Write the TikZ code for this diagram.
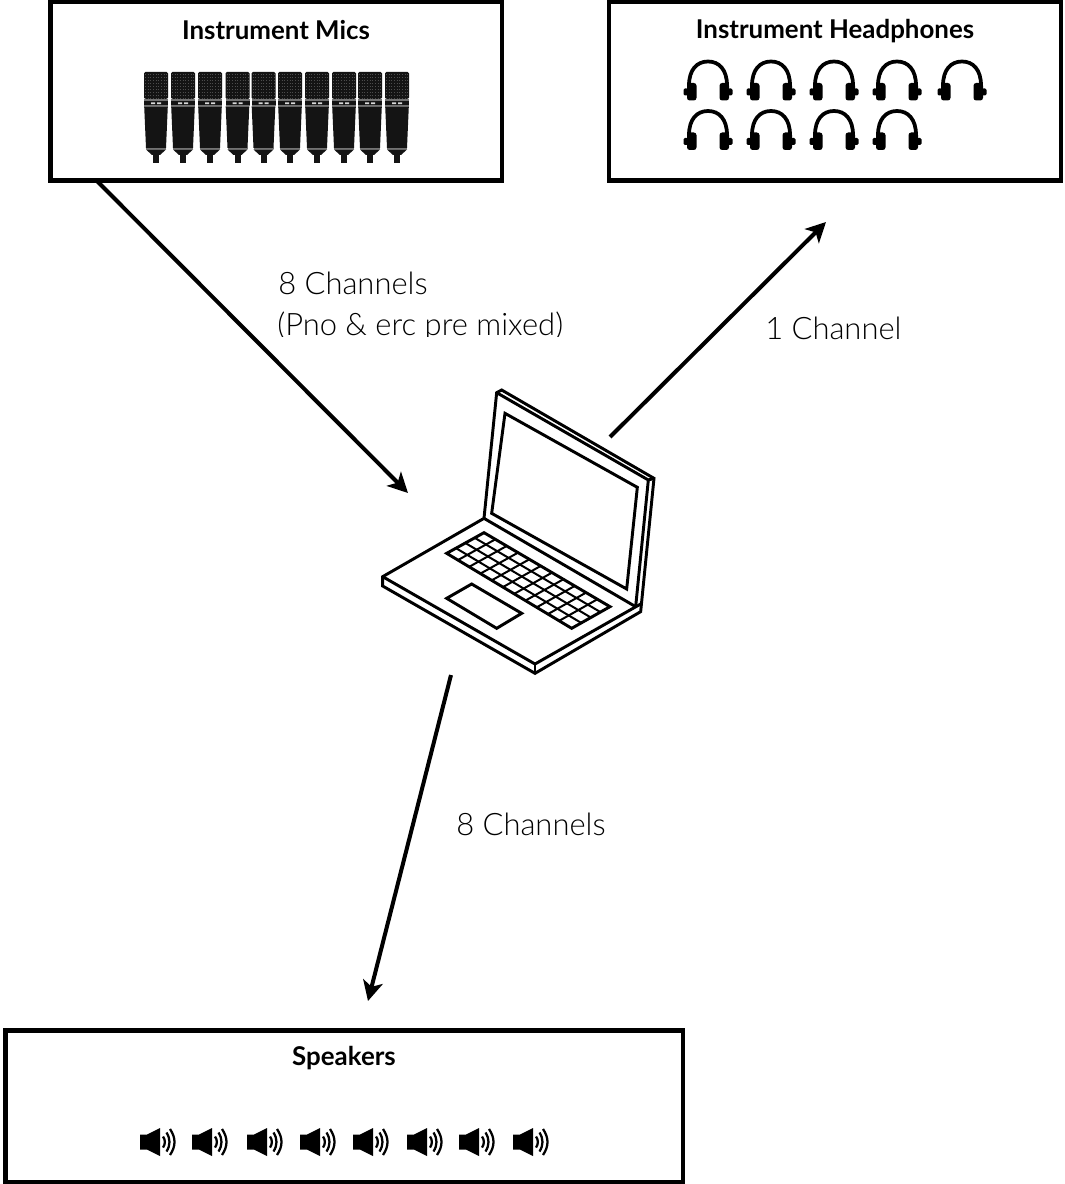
\documentclass[tikz,border=0pt]{standalone}
\usepackage{fontspec}
\setmainfont{Lato}
\newfontfamily\lightf{Lato Light}
\usetikzlibrary{arrows.meta,calc}
\definecolor{ink}{HTML}{000000}
\tikzset{
  panel/.style={draw=ink,line width=3.3pt,inner sep=0pt,outer sep=0pt},
  heading/.style={font=\bfseries\fontsize{19.4}{23}\selectfont,text=ink,inner sep=0pt},
  channel/.style={font=\lightf\fontsize{23.2}{27}\selectfont,text=ink,inner sep=0pt,anchor=base west},
  link/.style={line width=3pt,draw=ink,-{Stealth[length=15pt,width=15pt,inset=4pt]}},
  lap/.style={line width=2.2pt,draw=ink,line join=miter},
  lapthin/.style={line width=1.5pt,draw=ink},
}
\newcommand{\micicon}[1]{%
 \begin{scope}[shift={(#1,72)}]
  \fill[black!92,rounded corners=1pt] (-12,0) rectangle (12,27);
  \foreach \gy in {2,5,...,26}{\draw[black!70,line width=.25pt,dash pattern=on .6pt off 1.4pt] (-11,\gy)--(11,\gy);}
  \fill[black!55] (-12,27) rectangle (12,29);
  \fill[black!92] (-12,29) rectangle (12,33.5);
  \fill[black!15] (-5,30.5) rectangle (-1,32.2) (1,30.5) rectangle (5,32.2);
  \fill[black!55] (-12,33.5) rectangle (12,34.5);
  \fill[black!92] (-11.8,34.5) -- (11.8,34.5) -- (10,76) -- (-10,76) -- cycle;
  \fill[black!55] (-10,76) rectangle (10,77.5);
  \fill[black!92] (-10,77.5) -- (10,77.5) -- (4,83) -- (-4,83) -- cycle;
  \fill[black!92] (-3,83) rectangle (3,91);
 \end{scope}}
\newcommand{\phoneicon}[2]{%
 \begin{scope}[shift={(#1,#2)}]
  \draw[black,line width=2.8pt] (-19,-15) .. controls (-19,-31) and (-11,-39) .. (0,-39) .. controls (11,-39) and (19,-31) .. (19,-15);
  \fill[black,rounded corners=2pt] (-21,-17.5) rectangle (-11.5,0);
  \fill[black,rounded corners=2pt] (11.5,-17.5) rectangle (21,0);
  \fill[black,rounded corners=1pt] (-24.5,-12) rectangle (-20,-5);
  \fill[black,rounded corners=1pt] (20,-12) rectangle (24.5,-5);
 \end{scope}}
\newcommand{\spkicon}[1]{%
 \begin{scope}[shift={(#1,1142)}]
  \fill[black] (0,-7.5) -- (7,-7.5) -- (20,-14) -- (20,14) -- (7,7.5) -- (0,7.5) -- cycle;
  \draw[black,line width=1.7pt] (23,-5.5) .. controls (25.5,-2) and (25.5,2) .. (23,5.5);
  \draw[black,line width=1.7pt] (26.5,-9.5) .. controls (30.5,-3) and (30.5,3) .. (26.5,9.5);
  \draw[black,line width=1.7pt] (30,-13) .. controls (36,-4) and (36,4) .. (30,13);
 \end{scope}}
\begin{document}
\begin{tikzpicture}[x=0.75pt,y=-0.75pt]
\useasboundingbox (0,0) rectangle (1064,1184);
\fill[white] (0,0) rectangle (1064,1184);

\node[panel,minimum width=338.6pt,minimum height=133.9pt,anchor=north west] (mics) at (50.5,2) {};
\node[panel,minimum width=339pt,minimum height=133.9pt,anchor=north west] (phones) at (609,2) {};
\node[panel,minimum width=508.1pt,minimum height=114pt,anchor=north west] (spk) at (5.5,1030.5) {};

\node[heading] (micsT) at (276,30) {Instrument Mics};
\node[heading] (phonesT) at (835,31) {Instrument Headphones};
\node[heading] (spkT) at (344,1058) {Speakers};

\foreach \mx in {156,183,210,237.5,263.5,290,317,344,370,397}{\micicon{\mx}}
\foreach \hx in {708,771,834,897,962}{\phoneicon{\hx}{100.5}}
\foreach \hx in {708,771,834,897}{\phoneicon{\hx}{150}}
\foreach \sx in {140,192,247,300,353,407,459,513}{\spkicon{\sx}}

\begin{scope}[shift={(370,380)},x=0.25pt,y=-0.25pt]
  \draw[lap] (342,415) -- (380,38) -- (395,30) -- (852,295) -- (812,695) -- (495,880) -- (38,618) -- (38,590) -- cycle;
  \draw[lap] (380,38) -- (835,300) -- (797,680);
  \draw[lap] (852,295) -- (835,300);
  \draw[lap] (405,100) -- (802,322) -- (770,627) -- (365,400) -- cycle;
  \draw[lap] (38,590) -- (495,852) -- (812,672);
  \draw[lap] (342,415) -- (797,680);
  \draw[lap] (495,852) -- (495,880);
  \draw[lap] (230,655) -- (305,612) -- (455,700) -- (380,745) -- cycle;
  \coordinate (ka) at (230,520); \coordinate (kb) at (342,458);
  \coordinate (kc) at (720,680); \coordinate (kd) at (605,745);
  \draw[lap] (ka) -- (kb) -- (kc) -- (kd) -- cycle;
  \foreach \t in {0.25,0.5,0.75}{\draw[lapthin] ($(ka)!\t!(kb)$) -- ($(kd)!\t!(kc)$);}
  \foreach \t in {0.09,0.18,0.27,0.36,0.45,0.54,0.63,0.72,0.81,0.9}{\draw[lapthin] ($(ka)!\t!(kd)$) -- ($(kb)!\t!(kc)$);}
\end{scope}

\coordinate (lapIn) at (408,493);
\coordinate (lapOut) at (610,437);
\coordinate (lapDown) at (451,675);
\coordinate (micsOut) at (97,181);
\coordinate (phonesIn) at (826,222);
\coordinate (spkIn) at (368,1001);
\draw[link] (micsOut) -- (lapIn);
\draw[link] (lapOut) -- (phonesIn);
\draw[link] (lapDown) -- (spkIn);

\node[channel] (l1) at (278,294) {8 Channels};
\begin{scope}
  \clip (260,300) rectangle (600,336);
  \node[channel] (l2) at (277,335) {(Pno \& erc pre mixed)};
\end{scope}
\node[channel] (l3) at (765,339) {1 Channel};
\node[channel] (l4) at (456,835) {8 Channels};
\end{tikzpicture}
\end{document}
